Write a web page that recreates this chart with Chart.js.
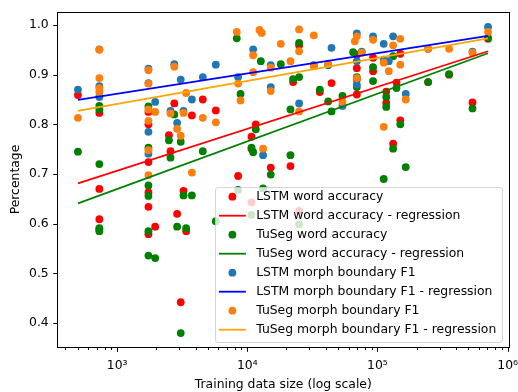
<!DOCTYPE html>
<html><head><meta charset="utf-8">
<script src="https://cdn.jsdelivr.net/npm/chart.js@4/dist/chart.umd.min.js"></script>
<style>html,body{margin:0;padding:0;background:#fff;}</style>
</head><body>
<canvas id="c" width="518" height="392"></canvas>
<script>
// ---- data ----
const lstmWordSize = [500, 730,730,730,730, 1740,1740,1740,1740,1740,1740, 1960, 2500, 2570, 2750, 2890, 3080, 3235, 3390, 3750, 4550, 5730, 8500, 10770,10770,10770, 11620, 15140, 21460, 22480, 25000,25000, 36080, 44360, 69400,69400,69400,69400, 92500,92500, 116800,116800, 131900, 140000, 149700,149700, 245000, 355000, 537000, 707000];
const lstmWordAcc  = [0.859, 0.823,0.670,0.609,0.589, 0.825,0.800,0.724,0.663,0.634,0.579, 0.594, 0.778, 0.746, 0.842, 0.620, 0.442, 0.666, 0.585, 0.818, 0.850, 0.828, 0.696, 0.775,0.751,0.643, 0.800, 0.713, 0.716, 0.885, 0.959,0.626, 0.865, 0.883, 0.940,0.913,0.890,0.860, 0.934,0.907, 0.866,0.843, 0.761, 0.884, 0.942,0.808, 0.885, 0.900, 0.844, 0.972];

const tusegWordSize = [500, 730,730,730,730,730, 1740,1740,1740,1740,1740,1740, 1960, 2500, 2570, 2750, 2890, 3080,3080, 3235, 3390, 3750, 4550, 5730, 8300, 8500, 8870, 10770,10770, 11090, 11620, 12700, 13220, 15140, 18080, 21460,21460, 22480, 25000,25000,25000, 32430, 36080, 41790, 44360, 53850, 65000, 69400,69400, 92500,92500, 111700, 116800,116800, 131900,131900, 140000, 149700, 164900, 245000, 355000, 537000, 707000];
const tusegWordAcc  = [0.745, 0.837,0.830,0.720,0.591,0.585, 0.836,0.753,0.677,0.656,0.585,0.536, 0.531, 0.768, 0.733, 0.820, 0.594, 0.765,0.380, 0.657, 0.591, 0.657, 0.746, 0.605, 0.973, 0.668, 0.861, 0.753,0.618, 0.744, 0.790, 0.927, 0.671, 0.699, 0.921, 0.830,0.738, 0.891, 0.964,0.895,0.599, 0.919, 0.870, 0.846, 0.826, 0.857, 0.945, 0.895,0.875, 0.915,0.887, 0.690, 0.855,0.835, 0.937,0.751, 0.873, 0.800, 0.714, 0.885, 0.901, 0.832, 0.974];

const lstmMorphSize = [500, 730,730,730, 1740,1740,1740,1740, 1960, 2570, 2750, 2890, 3080, 3235, 3750, 4550, 5730, 8500, 11090, 13220, 15140,15140, 25000, 41790, 44360, 53850, 69400,69400,69400, 75750, 92500, 111700,111700, 122200, 131900, 164900, 245000, 537000, 707000];
const lstmMorphF1   = [0.870, 0.951,0.877,0.855, 0.912,0.883,0.785,0.741, 0.845, 0.827, 0.921, 0.803, 0.890, 0.827, 0.850, 0.895, 0.920, 0.895, 0.951, 0.738, 0.919,0.875, 0.842, 0.919, 0.954, 0.837, 0.983,0.927,0.880, 0.946, 0.977, 0.962,0.930, 0.927, 0.977, 0.861, 0.952, 0.946, 0.996];

const tusegMorphSize = [500, 730,730,730,730, 1740,1740,1740,1740,1740,1740, 1960, 2570, 2750, 2890, 3080, 3235, 3390, 3750, 4550, 5730, 8300, 8500, 8870, 11090,11090, 12400, 12900, 13220, 15140,15140, 18080, 21460, 25000,25000,25000, 32430,32430, 41790, 53850, 67000, 69400, 69400, 75750, 92500, 111700,111700, 122200, 131900, 149700,149700, 164900, 245000, 355000, 537000, 707000];
const tusegMorphF1   = [0.813, 0.950,0.893,0.873,0.865, 0.909,0.882,0.830,0.807,0.748,0.698, 0.825, 0.822, 0.916, 0.791, 0.777, 0.823, 0.863, 0.703, 0.813, 0.804, 0.986, 0.882, 0.848, 0.939,0.905, 0.990, 0.984, 0.751, 0.914,0.867, 0.962, 0.927, 0.991,0.947,0.826, 0.979,0.917, 0.922, 0.845, 0.967, 0.977, 0.893, 0.944, 0.970, 0.924,0.795, 0.907, 0.959, 0.972,0.920, 0.850, 0.952, 0.952, 0.944, 0.986];

// regression lines (end points)
const regSize       = [500, 707000];
const regLstmWord   = [0.681, 0.947];
const regTusegWord  = [0.641, 0.943];
const regLstmMorph  = [0.849, 0.978];
const regTusegMorph = [0.827, 0.973];

const seriesLabels = [
  'LSTM word accuracy', 'LSTM word accuracy - regression',
  'TuSeg word accuracy', 'TuSeg word accuracy - regression',
  'LSTM morph boundary F1', 'LSTM morph boundary F1 - regression',
  'TuSeg morph boundary F1', 'TuSeg morph boundary F1 - regression'
];

const xMajorTicks = [1e3, 1e4, 1e5, 1e6];
const xTickLabels = ['10\u00B3', '10\u2074', '10\u2075', '10\u2076'];
const yTickValues = [0.4, 0.5, 0.6, 0.7, 0.8, 0.9, 1.0];
const xTitle = 'Training data size (log scale)';
const yTitle = 'Percentage';

// ---- build ----
const pts = (xs, ys) => xs.map((x, i) => ({x: x, y: ys[i]}));
const xAllTicks = [];
for (let e = 2; e <= 5; e++) for (let m = 1; m <= 9; m++) { const v = m * Math.pow(10, e); if (v >= 400) xAllTicks.push(v); }
xAllTicks.push(1e6);

const FONT_FAMILY = "'DejaVu Sans', sans-serif";
const FS = 12.4;
const PR = 3.9;
const LW = 1.8;

function scatterDs(label, data, color, order) {
  return {label, data, type: 'scatter', showLine: false, backgroundColor: color, borderColor: color,
          borderWidth: 0, pointRadius: PR, pointHoverRadius: PR, order};
}
function lineDs(label, data, color, order) {
  return {label, data, type: 'scatter', showLine: true, backgroundColor: color, borderColor: color,
          borderWidth: LW, pointRadius: 0, pointHoverRadius: 0, order, fill: false, tension: 0};
}

const datasets = [
  scatterDs(seriesLabels[0], pts(lstmWordSize, lstmWordAcc), '#ff0000', 8),
  lineDs(seriesLabels[1], pts(regSize, regLstmWord), '#ff0000', 4),
  scatterDs(seriesLabels[2], pts(tusegWordSize, tusegWordAcc), '#008000', 7),
  lineDs(seriesLabels[3], pts(regSize, regTusegWord), '#008000', 3),
  scatterDs(seriesLabels[4], pts(lstmMorphSize, lstmMorphF1), '#1f77b4', 6),
  lineDs(seriesLabels[5], pts(regSize, regLstmMorph), '#0000ff', 2),
  scatterDs(seriesLabels[6], pts(tusegMorphSize, tusegMorphF1), '#ff7f0e', 5),
  lineDs(seriesLabels[7], pts(regSize, regTusegMorph), '#ffa500', 1)
];

const axesPlugin = {
  id: 'mplAxes',
  afterDatasetsDraw(chart) {
    const {ctx, chartArea: a, scales} = chart;
    ctx.save();
    ctx.strokeStyle = '#000';
    ctx.lineWidth = 1;
    const L = Math.round(a.left) + 0.5, R = Math.round(a.right) + 0.5;
    const T = Math.round(a.top) + 0.5, B = Math.round(a.bottom) + 0.5;
    ctx.beginPath();
    xAllTicks.forEach(v => {
      const px = Math.round(scales.x.getPixelForValue(v)) + 0.5;
      const len = xMajorTicks.includes(v) ? 4.3 : 2.5;
      ctx.moveTo(px, B); ctx.lineTo(px, B + len);
    });
    yTickValues.forEach(v => {
      const py = Math.round(scales.y.getPixelForValue(v)) + 0.5;
      ctx.moveTo(L, py); ctx.lineTo(L - 4.3, py);
    });
    ctx.stroke();
    ctx.strokeRect(L, T, R - L, B - T);
    ctx.restore();
  }
};

const legendPlugin = {
  id: 'mplLegend',
  afterDraw(chart) {
    const {ctx, chartArea: a} = chart;
    const ds = chart.data.datasets;
    ctx.save();
    ctx.font = FS + 'px ' + FONT_FAMILY;
    let maxW = 0;
    ds.forEach(d => { maxW = Math.max(maxW, ctx.measureText(d.label).width); });
    const rowH = 19;
    const w = 41.3 + maxW + 5.7;
    const h = (ds.length - 1) * rowH + 22;
    const x0 = a.right - 7.3 - w;
    const y0 = a.bottom - 5.3 - h;
    ctx.beginPath();
    ctx.roundRect(Math.round(x0) + 0.5, Math.round(y0) + 0.5, Math.round(w), Math.round(h), 2.5);
    ctx.fillStyle = 'rgba(255,255,255,0.8)';
    ctx.fill();
    ctx.strokeStyle = 'rgba(204,204,204,0.8)';
    ctx.lineWidth = 1;
    ctx.stroke();
    ds.forEach((d, i) => {
      const cy = y0 + 10 + i * rowH;
      if (d.showLine) {
        ctx.beginPath();
        ctx.strokeStyle = d.borderColor;
        ctx.lineWidth = LW;
        ctx.moveTo(x0 + 4, cy); ctx.lineTo(x0 + 31, cy);
        ctx.stroke();
      } else {
        ctx.beginPath();
        ctx.fillStyle = d.backgroundColor;
        ctx.arc(x0 + 17.5, cy, PR, 0, Math.PI * 2);
        ctx.fill();
      }
      ctx.fillStyle = '#000';
      ctx.textBaseline = 'middle';
      ctx.textAlign = 'left';
      ctx.fillText(d.label, x0 + 41.3, cy + 0.5);
    });
    ctx.restore();
  }
};

new Chart(document.getElementById('c'), {
  type: 'scatter',
  data: {datasets},
  options: {
    responsive: false,
    animation: false,
    devicePixelRatio: 1,
    events: [],
    layout: {padding: {left: 0, right: 8.7, top: 12, bottom: 0}},
    plugins: {legend: {display: false}, tooltip: {enabled: false}},
    scales: {
      x: {
        type: 'logarithmic', position: 'bottom', min: 347, max: 1.03e6,
        border: {display: false},
        grid: {display: false, drawTicks: false},
        afterBuildTicks: (scale) => { scale.ticks = xAllTicks.map(v => ({value: v, major: xMajorTicks.includes(v)})); },
        afterFit: (scale) => { scale.height = 45; scale.paddingLeft = 0; scale.paddingRight = 0; scale.paddingTop = 0; scale.paddingBottom = 0; },
        ticks: {
          autoSkip: false, maxRotation: 0, minRotation: 0, padding: 11, color: '#000',
          font: {family: FONT_FAMILY, size: FS},
          callback: (v) => { const k = xMajorTicks.indexOf(v); return k >= 0 ? xTickLabels[k] : ''; }
        },
        title: {display: true, text: xTitle, color: '#000', font: {family: FONT_FAMILY, size: FS}, padding: {top: 1.2, bottom: 0}}
      },
      y: {
        type: 'linear', position: 'left', min: 0.352, max: 1.026,
        border: {display: false},
        grid: {display: false, drawTicks: false},
        afterBuildTicks: (scale) => { scale.ticks = yTickValues.map(v => ({value: v})); },
        afterFit: (scale) => { scale.width = 57.3; scale.paddingTop = 0; scale.paddingBottom = 0; scale.paddingLeft = 0; scale.paddingRight = 0; },
        ticks: {
          padding: 8.6, color: '#000', font: {family: FONT_FAMILY, size: FS},
          callback: (v) => v.toFixed(1)
        },
        title: {display: true, text: yTitle, color: '#000', font: {family: FONT_FAMILY, size: FS}, padding: {top: 8.6, bottom: 4}}
      }
    }
  },
  plugins: [axesPlugin, legendPlugin]
});
</script>
</body></html>
